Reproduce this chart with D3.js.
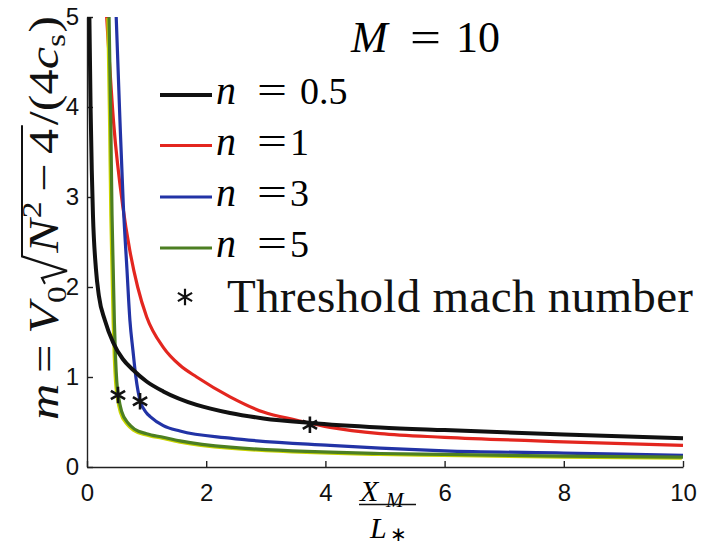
<!DOCTYPE html>
<html>
<head>
<meta charset="utf-8">
<script src="https://cdn.jsdelivr.net/npm/d3@7"></script>
<style>
  html, body { margin: 0; padding: 0; background: #fff; }
  svg { display: block; }
</style>
</head>
<body>
<svg id="chart" width="701" height="547"></svg>
<script>
// ---------------- data ----------------
const xTicks = [0, 2, 4, 6, 8, 10];
const yTicks = [0, 1, 2, 3, 4, 5];
const seriesLabels = ["0.5", "1", "3", "5"];

const n05Points = [[0.04,5],[0.06,4.0],[0.08,3.3],[0.10,2.8],[0.15,2.2],[0.20,1.9],[0.30,1.63],
  [0.44,1.38],[0.60,1.20],[0.77,1.08],[1.0,0.95],[1.28,0.84],[1.84,0.69],[2.4,0.60],[2.96,0.54],
  [3.74,0.49],[4.92,0.44],[6,0.41],[8,0.36],[10,0.32]];
const n1Points = [[0.33,5],[0.45,3.8],[0.60,2.9],[0.72,2.4],[0.85,2.0],[1.0,1.67],[1.28,1.33],
  [1.56,1.13],[1.84,1.0],[2.4,0.78],[2.96,0.61],[3.52,0.52],[4.08,0.44],[4.92,0.37],[6,0.33],
  [8,0.28],[10,0.24]];
const n3Points = [[0.49,5],[0.55,3.9],[0.61,2.9],[0.67,2.2],[0.72,1.63],[0.77,1.3],[0.82,1.0],
  [0.89,0.74],[1.0,0.60],[1.06,0.56],[1.28,0.46],[1.56,0.40],[2.4,0.32],[4.08,0.24],[4.92,0.21],
  [6,0.18],[8,0.155],[10,0.13]];
const n5Points = [[0.37,5],[0.40,3.8],[0.42,2.8],[0.44,2.2],[0.46,1.6],[0.48,1.2],[0.50,0.95],
  [0.53,0.78],[0.58,0.62],[0.70,0.48],[0.80,0.42],[1.0,0.37],[1.28,0.33],[1.56,0.29],[2.4,0.22],
  [4.92,0.15],[6,0.14],[8,0.12],[10,0.11]];
const thresholdPoints = [[0.52,0.80],[0.89,0.73],[3.74,0.47]];

// ---------------- layout ----------------
const svg = d3.select("#chart");
const x = d3.scaleLinear().domain([0, 10]).range([87, 683]);
const y = d3.scaleLinear().domain([0, 5]).range([467, 17]);

const styles = [
  { pts: n05Points, color: "#111111", w: 4 },
  { pts: n1Points,  color: "#e3261f", w: 3.2 },
  { pts: n3Points,  color: "#2233a6", w: 3.2 },
  { pts: n5Points,  color: "#4c7f22", w: 3.2, halo: "#c9d400" }
];

const line = d3.line().x(d => x(d[0])).y(d => y(d[1])).curve(d3.curveMonotoneX);

// axes
const axisColor = "#222";
const gx = svg.append("g").attr("transform", `translate(0,${y(0)})`)
  .call(d3.axisBottom(x).tickValues(xTicks).tickFormat(d3.format("d"))
    .tickSize(-6).tickSizeOuter(0).tickPadding(17));
const gy = svg.append("g").attr("transform", `translate(${x(0)},0)`)
  .call(d3.axisLeft(y).tickValues(yTicks).tickFormat(d3.format("d"))
    .tickSize(-6).tickSizeOuter(0).tickPadding(8));
[gx, gy].forEach(g => {
  g.selectAll("path, line").attr("stroke", axisColor).attr("stroke-width", 1.4);
  g.selectAll("text").attr("font-family", "'Liberation Sans', Arial, sans-serif")
    .attr("font-size", 24).attr("fill", "#111");
});

// curves (draw order: red, blue, green, black)
const order = [1, 2, 3, 0];
order.forEach(i => {
  const s = styles[i];
  if (s.halo) {
    svg.append("path").datum(s.pts).attr("d", line).attr("fill", "none")
      .attr("stroke", s.halo).attr("stroke-width", s.w)
      .attr("transform", "translate(-1.2,1)");
  }
  svg.append("path").datum(s.pts).attr("d", line).attr("fill", "none")
    .attr("stroke", s.color).attr("stroke-width", s.w).attr("stroke-linejoin", "round");
});

// threshold markers
const star = d3.symbol().type(d3.symbolAsterisk).size(190);
svg.selectAll("path.star").data(thresholdPoints).join("path").attr("class", "star")
  .attr("d", star).attr("transform", d => `translate(${x(d[0])},${y(d[1])})`)
  .attr("fill", "none").attr("stroke", "#111").attr("stroke-width", 2.6);

// ---------------- legend ----------------
const serif = "'Liberation Serif', 'Times New Roman', serif";
const legY = [95, 145.5, 197, 248];
seriesLabels.forEach((lab, i) => {
  const s = styles[i];
  svg.append("line").attr("x1", 160).attr("x2", 212).attr("y1", legY[i]).attr("y2", legY[i])
    .attr("stroke", s.color).attr("stroke-width", i === 0 ? 4 : 3.2);
  const base = legY[i] + 9;
  svg.append("text").attr("x", 216).attr("y", base).attr("font-family", serif)
    .attr("font-size", 40).attr("font-style", "italic").text("n");
  svg.append("text").attr("x", 257).attr("y", base).attr("font-family", serif)
    .attr("font-size", 40).attr("textLength", 30).attr("lengthAdjust", "spacingAndGlyphs").text("=");
  svg.append("text").attr("x", i === 0 ? 300 : 290).attr("y", base).attr("font-family", serif)
    .attr("font-size", 38).text(lab);
});
svg.append("path").attr("d", star).attr("transform", "translate(185,297)")
  .attr("fill", "none").attr("stroke", "#111").attr("stroke-width", 2.2);
svg.append("text").attr("x", 227).attr("y", 312).attr("font-family", serif)
  .attr("font-size", 47).attr("textLength", 466).attr("lengthAdjust", "spacing")
  .attr("fill", "#111").text("Threshold mach number");

// M = 10
svg.append("text").attr("x", 351).attr("y", 52).attr("font-family", serif)
  .attr("font-size", 44).attr("font-style", "italic").text("M");
svg.append("text").attr("x", 410).attr("y", 52).attr("font-family", serif)
  .attr("font-size", 44).attr("textLength", 31).attr("lengthAdjust", "spacingAndGlyphs").text("=");
svg.append("text").attr("x", 456).attr("y", 52).attr("font-family", serif)
  .attr("font-size", 44).text("10");

// ---------------- x label: X_M / L_* ----------------
const xl = svg.append("g");
xl.append("text").attr("x", 360).attr("y", 501).attr("font-family", serif)
  .attr("font-size", 30).attr("font-style", "italic").text("X");
xl.append("text").attr("x", 386).attr("y", 507).attr("font-family", serif)
  .attr("font-size", 21).attr("font-style", "italic").text("M");
xl.append("line").attr("x1", 359).attr("x2", 416).attr("y1", 504.5).attr("y2", 504.5)
  .attr("stroke", "#111").attr("stroke-width", 1.6);
xl.append("text").attr("x", 370).attr("y", 538).attr("font-family", serif)
  .attr("font-size", 30).attr("font-style", "italic").text("L");
xl.append("text").attr("x", 390).attr("y", 541).attr("font-family", serif)
  .attr("font-size", 20).text("∗");

// ---------------- y label ----------------
const ylOuter = svg.append("g").attr("transform", "translate(58,420) rotate(-90)");
const yl = ylOuter.append("g").attr("font-family", serif).attr("fill", "#111");
let cx = 0;
function put(str, o = {}) {
  const t = yl.append("text").attr("x", cx).attr("y", o.dy || 0)
    .attr("font-size", o.fs || 42).attr("font-style", o.it ? "italic" : "normal").text(str);
  cx += t.node().getComputedTextLength() + (o.gap || 0);
  return t;
}
put("m", { it: true, gap: 9 });
put("=", { gap: 9 });
put("V", { it: true, gap: 0 });
put("0", { fs: 28, dy: 8, gap: 2 });
const rx = cx;
cx += 26;
put("N", { it: true, gap: 1 });
put("2", { fs: 28, dy: -17, gap: 8 });
put("−", { gap: 8 });
put("4", { gap: 3 });
const rEnd = cx;
put("/", { gap: 0 });
put("(", { gap: 0 });
put("4", { gap: 0 });
put("c", { it: true, gap: 0 });
put("s", { fs: 28, dy: 7, gap: 1 });
put(")");
yl.append("path")
  .attr("d", `M${rx},-13 L${rx + 5},-16 L${rx + 11},9 L${rx + 23},-36 L${rEnd},-36`)
  .attr("fill", "none").attr("stroke", "#111").attr("stroke-width", 2).attr("stroke-linejoin", "miter");
// stretch along the text direction so the label spans the same length as in the reference
yl.attr("transform", `scale(${404 / cx},1)`);
</script>
</body>
</html>
